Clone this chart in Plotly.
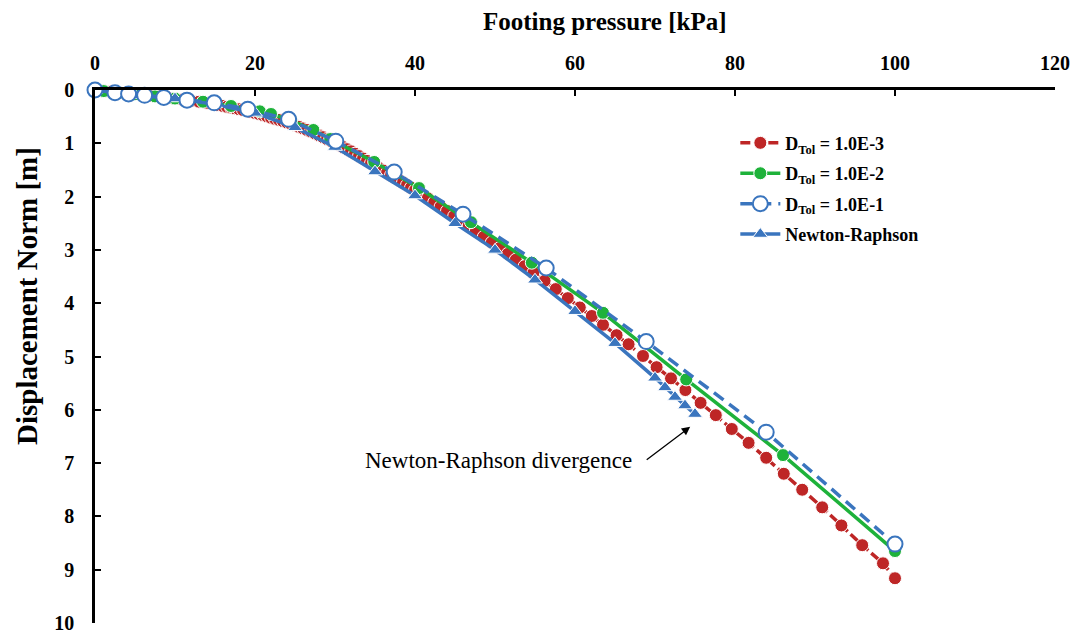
import plotly.graph_objects as go

# ---- data ----
red_p = [0, 1, 2, 3, 4, 5, 6, 7, 8, 9, 10, 11, 12, 13, 14, 15, 15.5, 16, 16.5, 17, 17.5, 18, 18.5, 19, 19.5,
         20, 20.5, 21, 21.5, 22, 22.5, 23, 23.5, 24, 24.5, 25, 25.5, 26, 26.5, 27, 27.5, 28, 28.5, 29, 29.5,
         30, 30.5, 31, 31.5, 32, 32.5, 33, 33.5, 34, 34.5, 35, 35.5, 36, 36.5, 37, 37.5, 38, 38.5, 39, 39.5,
         40, 40.8, 41.6, 42.4, 43.2, 44, 44.9, 45.8, 46.7, 47.6, 48.6, 49.6, 50.6, 51.6, 52.6, 53.7, 54.8,
         56.2, 57.6, 59.1, 60.6, 62.1, 63.5, 65.2, 66.7, 68.5, 70.2, 72.0, 73.8, 75.7, 77.6, 79.6, 81.7,
         83.9, 86.1, 88.4, 90.9, 93.3, 95.9, 98.5, 100]
red_d = [0, 0.015, 0.03, 0.045, 0.06, 0.075, 0.09, 0.105, 0.12, 0.14, 0.16, 0.18, 0.2, 0.22, 0.24, 0.27, 0.285,
         0.3, 0.315, 0.33, 0.345, 0.36, 0.375, 0.39, 0.41, 0.43, 0.45, 0.47, 0.495, 0.52, 0.54, 0.56, 0.585,
         0.61, 0.635, 0.66, 0.69, 0.72, 0.75, 0.78, 0.815, 0.85, 0.885, 0.92, 0.955, 0.99, 1.03, 1.07, 1.11,
         1.15, 1.195, 1.24, 1.285, 1.33, 1.375, 1.42, 1.465, 1.51, 1.555, 1.6, 1.645, 1.69, 1.737, 1.785,
         1.832, 1.88, 1.956, 2.032, 2.11, 2.19, 2.27, 2.365, 2.46, 2.555, 2.65, 2.755, 2.86, 2.965, 3.075,
         3.185, 3.305, 3.43, 3.58, 3.735, 3.905, 4.08, 4.24, 4.405, 4.6, 4.77, 4.99, 5.2, 5.41, 5.63, 5.87,
         6.1, 6.36, 6.62, 6.9, 7.2, 7.5, 7.83, 8.17, 8.54, 8.88, 9.16]

green_p = [0, 1.1, 3, 5, 7.5, 10, 13.5, 17, 20.6, 22, 24.5, 27.3, 29.4, 34.9, 40.5, 47, 54.6, 63.5, 73.9, 86, 100]
green_d = [0, 0.02, 0.05, 0.08, 0.12, 0.16, 0.22, 0.3, 0.4, 0.45, 0.57, 0.75, 0.92, 1.35, 1.84, 2.48, 3.24,
           4.18, 5.43, 6.85, 8.65]

open_p = [0, 2.5, 4.2, 6.2, 8.6, 11.5, 14.9, 19.1, 24.2, 30.1, 37.4, 46, 56.4, 68.9, 83.9, 100]
open_d = [0, 0.05, 0.075, 0.1, 0.14, 0.19, 0.24, 0.36, 0.55, 0.96, 1.54, 2.33, 3.34, 4.72, 6.42, 8.52]

nr_p = [0, 5, 10, 15, 20, 25, 30, 35, 40, 45, 50, 55, 60, 65, 70, 71.25, 72.5, 73.75, 75]
nr_d = [0, 0.1, 0.16, 0.27, 0.43, 0.7, 1.07, 1.53, 1.98, 2.5, 3.0, 3.56, 4.15, 4.75, 5.4, 5.58, 5.76, 5.92, 6.08]

x_ticks = [0, 20, 40, 60, 80, 100, 120]
y_ticks = [0, 1, 2, 3, 4, 5, 6, 7, 8, 9, 10]

RED = "rgb(190,38,38)"
GREEN = "rgb(30,178,58)"
BLUE = "rgb(58,117,190)"
FONT = "Liberation Serif"

fig = go.Figure()
fig.add_trace(go.Scatter(
    x=red_p, y=red_d, mode="lines+markers", name="<b>D<sub>Tol</sub> = 1.0E-3</b>", legendrank=1,
    legendgroup="a", cliponaxis=False,
    line=dict(color=RED, width=3.5, dash="10px,4px"),
    marker=dict(symbol="circle", size=13, color=RED, line=dict(color="white", width=1))))
fig.add_trace(go.Scatter(
    x=green_p, y=green_d, mode="lines+markers", name="<b>D<sub>Tol</sub> = 1.0E-2</b>", legendrank=2,
    legendgroup="b", cliponaxis=False,
    line=dict(color=GREEN, width=3.5),
    marker=dict(symbol="circle", size=13, color=GREEN, line=dict(color="white", width=1))))
fig.add_trace(go.Scatter(
    x=nr_p, y=nr_d, mode="lines+markers", name="<b>Newton-Raphson</b>", legendrank=4,
    legendgroup="d", cliponaxis=False,
    line=dict(color=BLUE, width=3.5),
    marker=dict(symbol="triangle-up", size=13, color=BLUE, line=dict(color="white", width=1))))
fig.add_trace(go.Scatter(
    x=open_p, y=open_d, mode="lines+markers", name="<b>D<sub>Tol</sub> = 1.0E-1</b>", legendrank=3,
    legendgroup="c", cliponaxis=False,
    line=dict(color=BLUE, width=3.5, dash="12px,7px"),
    marker=dict(symbol="circle", size=15, color="white", line=dict(color=BLUE, width=2))))

# arrow and its label
fig.add_annotation(x=74.4, y=6.32, xref="x", yref="y", text="", showarrow=True,
                   ax=-45, ay=34, arrowhead=2, arrowsize=1.3, arrowwidth=1.3, arrowcolor="black")
fig.add_annotation(x=50.4, y=6.95, xref="x", yref="y", text="Newton-Raphson divergence",
                   showarrow=False, font=dict(family=FONT, size=23, color="black"))

# axis titles (placed as in the reference, off-centre)
fig.add_annotation(x=0.531, y=1.129, xref="paper", yref="paper", text="<b>Footing pressure [kPa]</b>",
                   showarrow=False, xanchor="center", yanchor="middle",
                   font=dict(family=FONT, size=25, color="black"))
fig.add_annotation(x=-0.0708, y=0.6135, xref="paper", yref="paper", text="<b>Displacement Norm [m]</b>",
                   showarrow=False, xanchor="center", yanchor="middle", textangle=-90,
                   font=dict(family=FONT, size=29, color="black"))

fig.update_layout(
    width=1078, height=634,
    margin=dict(l=95, r=23, t=90, b=11, autoexpand=False),
    paper_bgcolor="white", plot_bgcolor="white",
    font=dict(family=FONT, color="black"),
    showlegend=True,
    legend=dict(x=0.667, y=0.935, xanchor="left", yanchor="top", bgcolor="rgba(0,0,0,0)",
                font=dict(family=FONT, size=18, color="black"), itemwidth=40, tracegroupgap=4),
    xaxis=dict(side="top", range=[0, 120], tickvals=x_ticks, ticktext=[str(v) for v in x_ticks],
               showline=True, linewidth=2.5, linecolor="black", mirror=False, automargin=False,
               ticks="inside", ticklen=6, tickwidth=1.5, tickcolor="black",
               showgrid=False, zeroline=False, ticklabelstandoff=9,
               tickfont=dict(family=FONT, size=20, weight="bold")),
    yaxis=dict(range=[10, 0], tickvals=y_ticks, ticktext=[str(v) for v in y_ticks],
               showline=True, linewidth=2.5, linecolor="black", mirror=False, automargin=False,
               ticks="inside", ticklen=6, tickwidth=1.5, tickcolor="black",
               showgrid=False, zeroline=False, ticklabelstandoff=14,
               tickfont=dict(family=FONT, size=20, weight="bold")),
)

fig.write_html("out.html")
